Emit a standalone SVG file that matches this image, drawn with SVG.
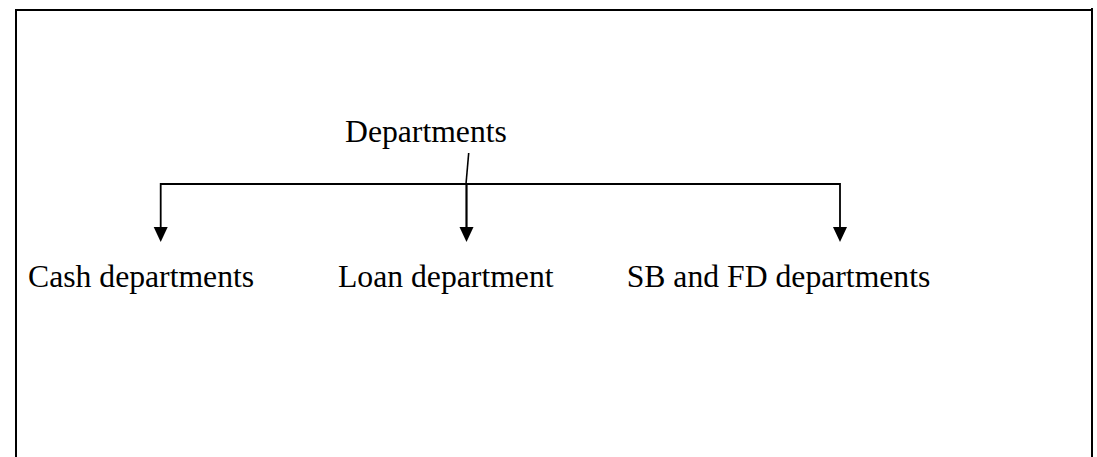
<svg xmlns="http://www.w3.org/2000/svg" width="1097" height="457" viewBox="0 0 1097 457">
  <style>
    .lbl { font-family: "Liberation Serif", "Times New Roman", serif; font-size: 31.7px; fill: #000; }
    .ln { stroke: #000; fill: none; }
    .head { fill: #000; }
  </style>
  <rect width="1097" height="457" fill="#fff"/>
  <g id="frame">
    <polyline class="ln" stroke-width="2" points="16,457 16,10 1093,10"/>
    <line class="ln" stroke-width="2" x1="1092" y1="8" x2="1092" y2="457"/>
  </g>
  <g id="connectors">
    <line class="ln" stroke-width="1.6" x1="468.7" y1="153" x2="466" y2="184"/>
    <polyline class="ln" stroke-width="1.8" points="160.7,228 160.7,184 840,184 840,228"/>
    <line class="ln" stroke-width="2.2" x1="466.5" y1="184" x2="466.5" y2="228"/>
    <polygon class="head" points="153.7,227 167.7,227 160.7,242"/>
    <polygon class="head" points="459.5,227 473.5,227 466.5,242"/>
    <polygon class="head" points="833,227 847,227 840,242"/>
  </g>
  <g id="node-departments">
    <text class="lbl" x="345" y="141.7">Departments</text>
  </g>
  <g id="node-cash">
    <text class="lbl" x="28" y="287">Cash departments</text>
  </g>
  <g id="node-loan">
    <text class="lbl" x="338" y="287">Loan department</text>
  </g>
  <g id="node-sbfd">
    <text class="lbl" x="626.7" y="287">SB and FD departments</text>
  </g>
</svg>
